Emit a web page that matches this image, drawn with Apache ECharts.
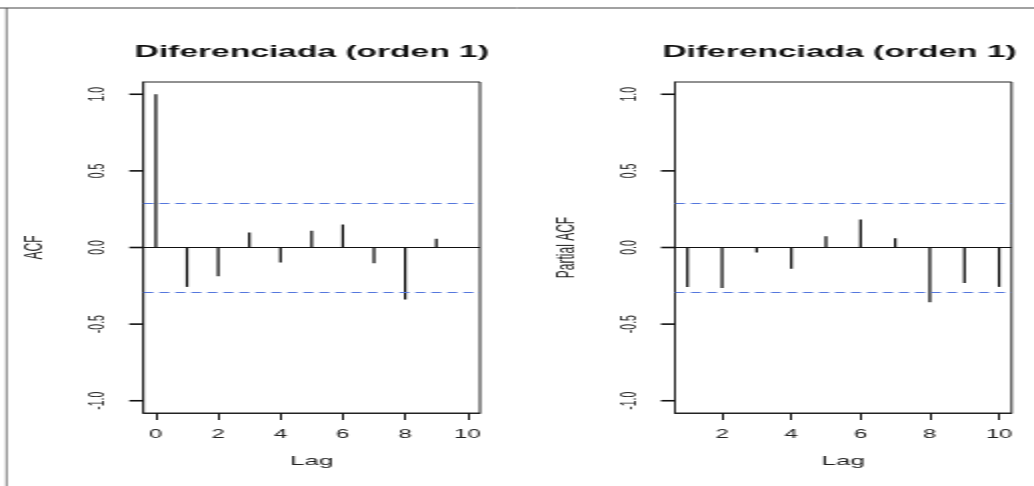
<!DOCTYPE html>
<html>
<head>
<meta charset="utf-8">
<script src="https://cdn.jsdelivr.net/npm/echarts@6/dist/echarts.min.js"></script>
<style>
  html, body { margin: 0; padding: 0; background: #ffffff; }
  #wrap { width: 1034px; height: 486px; overflow: hidden; position: relative; background: #ffffff; }
  #chart { width: 517px; height: 486px; transform: scaleX(2); transform-origin: 0 0; }
</style>
</head>
<body>
<div id="wrap"><div id="chart"></div></div>
<script>
// ---- data ----
const titleText = 'Diferenciada (orden 1)';
const acfLags = [0, 1, 2, 3, 4, 5, 6, 7, 8, 9, 10];
const acfValues = [1.0, -0.257, -0.187, 0.098, -0.098, 0.109, 0.150, -0.102, -0.340, 0.057, 0.0];
const pacfLags = [1, 2, 3, 4, 5, 6, 7, 8, 9, 10];
const pacfValues = [-0.257, -0.264, -0.033, -0.139, 0.074, 0.183, 0.061, -0.357, -0.231, -0.257];
const ciUpper = 0.29;
const ciLower = -0.29;
const yTicks = [-1.0, -0.5, 0.0, 0.5, 1.0];
const acfXTicks = [0, 2, 4, 6, 8, 10];
const pacfXTicks = [2, 4, 6, 8, 10];
const xName = 'Lag';
const acfYName = 'ACF';
const pacfYName = 'Partial ACF';

// ---- chart ----
const FONT = "'Liberation Sans', Arial, sans-serif";
const chart = echarts.init(document.getElementById('chart'), null, { renderer: 'canvas' });

const grids = [
  { left: 71.7, top: 82, width: 168.3, height: 331 },
  { left: 337.5, top: 82, width: 168.3, height: 331 }
];
const xRanges = [[-0.4, 10.4], [0.64, 10.36]];
const TICK_LEN = 7;

function xAxisDef(gridIndex, ticks) {
  return {
    type: 'value', gridIndex, min: xRanges[gridIndex][0], max: xRanges[gridIndex][1],
    name: xName, nameLocation: 'middle', nameGap: 42,
    nameTextStyle: { fontFamily: FONT, fontSize: 13, color: '#222' },
    axisLine: { show: true, onZero: false, lineStyle: { color: '#222', width: 1 } },
    axisTick: { show: true, length: TICK_LEN, customValues: ticks, lineStyle: { color: '#111', width: 1 } },
    axisLabel: { customValues: ticks, margin: 16, fontFamily: FONT, fontSize: 12, color: '#222' },
    splitLine: { show: false }
  };
}
function yAxisDef(gridIndex, name) {
  return {
    type: 'value', gridIndex, min: -1.08, max: 1.08,
    name: name, nameLocation: 'middle', nameGap: 48, nameRotate: 90,
    nameTextStyle: { fontFamily: FONT, fontSize: 12, color: '#222' },
    axisLine: { show: true, onZero: false, lineStyle: { color: '#222', width: 1 } },
    axisTick: { show: false },
    axisLabel: { customValues: yTicks, rotate: 90, margin: 17, fontFamily: FONT, fontSize: 10.5, color: '#222',
                 formatter: v => Number(v).toFixed(1) },
    splitLine: { show: false }
  };
}

function spikeSeries(idx, lags, vals) {
  return {
    type: 'bar', xAxisIndex: idx, yAxisIndex: idx,
    data: lags.map((l, i) => [l, vals[i]]),
    barWidth: 1.2,
    itemStyle: { color: '#000' },
    silent: true,
    markLine: {
      silent: true, symbol: 'none', label: { show: false }, animation: false,
      data: [
        { yAxis: 0, lineStyle: { color: '#111', type: 'solid', width: 1 } },
        { yAxis: ciUpper, lineStyle: { color: '#5577dd', type: [5, 3], width: 1 } },
        { yAxis: ciLower, lineStyle: { color: '#5577dd', type: [5, 3], width: 1 } }
      ]
    }
  };
}

const titleStyle = { fontFamily: FONT, fontSize: 16.8, fontWeight: 'bold', color: '#111' };

const frame = [
  { type: 'line', shape: { x1: 0, y1: 8, x2: 517, y2: 8 }, style: { stroke: '#444', lineWidth: 1 }, silent: true },
  { type: 'line', shape: { x1: 3.3, y1: 8, x2: 3.3, y2: 486 }, style: { stroke: '#444', lineWidth: 0.7 }, silent: true }
];

chart.setOption({
  animation: false,
  backgroundColor: '#ffffff',
  title: [
    { text: titleText, left: 155.9, top: 44, textAlign: 'center', padding: 0, textStyle: titleStyle },
    { text: titleText, left: 419.8, top: 44, textAlign: 'center', padding: 0, textStyle: titleStyle }
  ],
  grid: grids.map(g => Object.assign({ show: true, borderColor: '#222', borderWidth: 1, backgroundColor: 'transparent', containLabel: false, outerBoundsMode: 'none' }, g)),
  xAxis: [xAxisDef(0, acfXTicks), xAxisDef(1, pacfXTicks)],
  yAxis: [yAxisDef(0, acfYName), yAxisDef(1, pacfYName)],
  series: [
    spikeSeries(0, acfLags, acfValues),
    spikeSeries(1, pacfLags, pacfValues)
  ],
  graphic: frame
});

// y-axis tick marks outside each plot's left edge, placed through the axis scale
const tickEls = [];
[0, 1].forEach(function (gi) {
  yTicks.forEach(function (v) {
    const p = chart.convertToPixel({ xAxisIndex: gi, yAxisIndex: gi }, [xRanges[gi][0], v]);
    if (p) {
      tickEls.push({
        type: 'line', silent: true, z: 100,
        shape: { x1: p[0] - TICK_LEN, y1: p[1], x2: p[0], y2: p[1] },
        style: { stroke: '#111', lineWidth: 1.6 }
      });
    }
  });
});
chart.setOption({ graphic: frame.concat(tickEls) }, { replaceMerge: ['graphic'] });
</script>
</body>
</html>
